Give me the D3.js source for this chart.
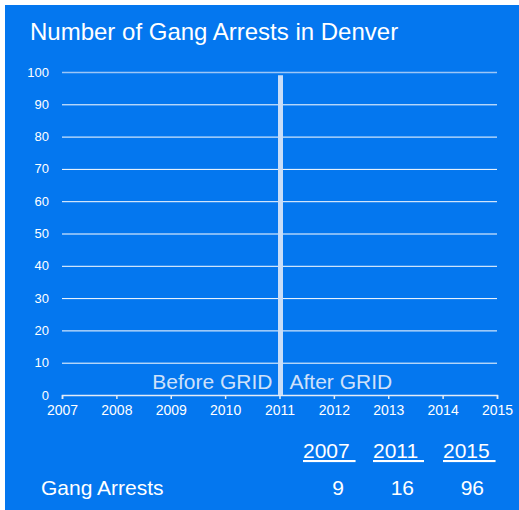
<!DOCTYPE html>
<html lang="en">
<head>
  <meta charset="UTF-8">
  <title>Number of Gang Arrests in Denver</title>
  <script src="https://cdn.jsdelivr.net/npm/d3@7"></script>
  <style>
    body { margin: 0; background: #fff; }
    svg text { font-family: "Liberation Sans", Arial, sans-serif; }
  </style>
</head>
<body>
  <svg width="519" height="510"></svg>
  <script>
    // data
    var title = "Number of Gang Arrests in Denver";
    var xYears = [2007, 2008, 2009, 2010, 2011, 2012, 2013, 2014, 2015];
    var yTicks = [0, 10, 20, 30, 40, 50, 60, 70, 80, 90, 100];
    var markerYear = [2011];
    var markerValue = [99];
    var phaseLabels = ["Before GRID", "After GRID"];
    var tableYears = ["2007", "2011", "2015"];
    var tableValues = [9, 16, 96];
    var rowLabel = "Gang Arrests";

    var svg = d3.select("svg");
    var blue = "#0477ef";

    svg.append("rect")
      .attr("x", 5).attr("y", 5)
      .attr("width", 514).attr("height", 505)
      .attr("fill", blue);

    svg.append("text")
      .attr("x", 30).attr("y", 40)
      .attr("fill", "#fff")
      .style("font-size", "24px")
      .text(title);

    var x = d3.scaleLinear().domain([2007, 2015]).range([62, 497]);
    var y = d3.scaleLinear().domain([0, 100]).range([395, 72]);

    // grid lines
    svg.append("g").selectAll("line")
      .data(yTicks.filter(function (d) { return d > 0; }))
      .enter().append("line")
      .attr("x1", x(2007)).attr("x2", x(2015))
      .attr("y1", function (d) { return y(d) + 0.5; })
      .attr("y2", function (d) { return y(d) + 0.5; })
      .attr("stroke", function (d) { return d === 100 ? "#9cc6f7" : "#fff"; })
      .attr("stroke-width", function (d) { return d === 100 ? 1.5 : 1; });

    // y labels
    svg.append("g").selectAll("text")
      .data(yTicks)
      .enter().append("text")
      .attr("x", 49)
      .attr("y", function (d) { return y(d); })
      .attr("dy", "0.35em")
      .attr("text-anchor", "end")
      .attr("fill", "#fff")
      .style("font-size", "13px")
      .text(function (d) { return d; });

    // x axis
    var xAxis = svg.append("g")
      .attr("transform", "translate(0," + y(0) + ")")
      .call(d3.axisBottom(x).tickValues(xYears).tickFormat(d3.format("d")).tickSize(4).tickSizeOuter(4));
    xAxis.select(".domain").attr("stroke", "#e4ecf7").attr("stroke-width", 1.5);
    xAxis.selectAll(".tick line").attr("stroke", "#e4ecf7").attr("stroke-width", 1.5);
    xAxis.selectAll(".tick text")
      .attr("fill", "#fff")
      .attr("y", 10)
      .style("font-size", "14px")
      .style("font-family", "'Liberation Sans', Arial, sans-serif");

    // marker bar
    svg.append("g").selectAll("rect")
      .data(markerYear)
      .enter().append("rect")
      .attr("x", function (d) { return x(d) - 1.5; })
      .attr("y", function (d, i) { return y(markerValue[i]); })
      .attr("width", 5)
      .attr("height", function (d, i) { return y(0) - y(markerValue[i]); })
      .attr("fill", "#c8ddf8");

    svg.append("g").selectAll("text")
      .data(phaseLabels)
      .enter().append("text")
      .attr("x", function (d, i) { return i === 0 ? x(2011) - 7 : x(2011) + 10; })
      .attr("y", 389)
      .attr("text-anchor", function (d, i) { return i === 0 ? "end" : "start"; })
      .attr("fill", "#cfe1fa")
      .style("font-size", "21px")
      .text(function (d) { return d; });

    // table below
    var col = d3.scalePoint().domain(tableYears).range([303, 443]);

    svg.append("g").selectAll("text")
      .data(tableYears)
      .enter().append("text")
      .attr("x", function (d) { return col(d); })
      .attr("y", 458)
      .attr("fill", "#fff")
      .style("font-size", "21px")
      .style("text-decoration", "underline")
      .style("white-space", "pre")
      .text(function (d) { return d + " "; });

    svg.append("text")
      .attr("x", 41).attr("y", 495)
      .attr("fill", "#fff")
      .style("font-size", "21px")
      .text(rowLabel);

    svg.append("g").selectAll("text")
      .data(tableValues)
      .enter().append("text")
      .attr("x", function (d, i) { return col(tableYears[i]) + 41; })
      .attr("y", 495)
      .attr("text-anchor", "end")
      .attr("fill", "#fff")
      .style("font-size", "21px")
      .text(function (d) { return d; });
  </script>
</body>
</html>
